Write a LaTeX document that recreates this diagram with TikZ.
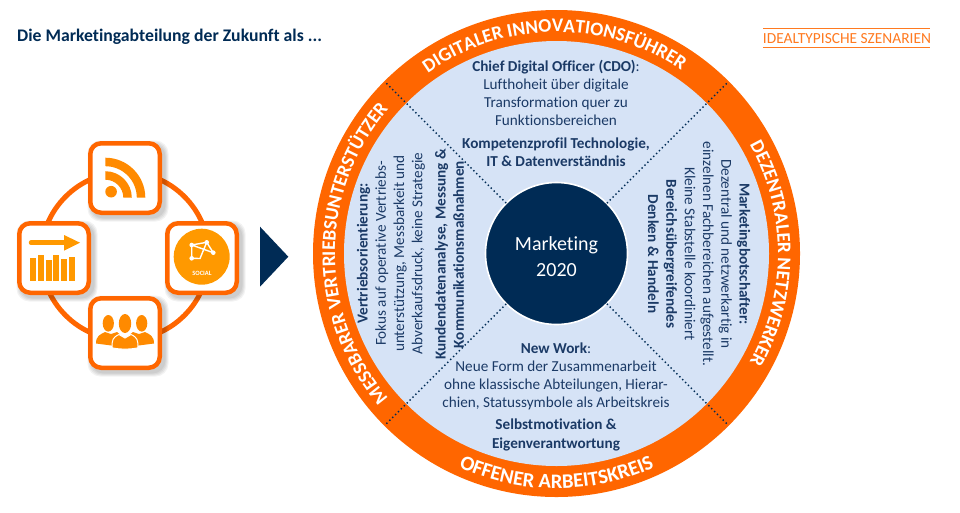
\documentclass[tikz,border=0pt]{standalone}
\usepackage{fontspec}
\setmainfont[Ligatures=NoCommon]{Carlito}
\usetikzlibrary{decorations.text,shapes.geometric}
\definecolor{ringorange}{HTML}{FF6600}
\definecolor{iconamber}{HTML}{FF9900}
\definecolor{iconorange}{HTML}{FF8A00}
\definecolor{quadblue}{HTML}{D6E3F6}
\definecolor{hubnavy}{HTML}{002B55}
\definecolor{txtnavy}{HTML}{1B3A66}
\definecolor{tagorange}{HTML}{FF7A20}
\newcommand{\bodyfont}{\fontsize{15.2}{18.2}\selectfont}
\newcommand{\ringfont}{\fontsize{19.3}{20}\selectfont\bfseries}
\newcommand{\ringfontb}{\fontsize{20.6}{21}\selectfont\bfseries}
\newcommand{\softshade}[2]{%
  \foreach \wd in {1,3,5,7}{%
    \fill[black,opacity=0.05,rounded corners=13pt] ({#1+3-37-\wd/2},{#2+3-37-\wd/2}) rectangle ({#1+3+37+\wd/2},{#2+3+37+\wd/2});}}
\tikzset{
  iconbox/.style={draw=ringorange,line width=4.5pt,fill=white,rounded corners=11pt,minimum size=69.5pt,inner sep=0pt,outer sep=0pt},
  blocktext/.style={text=txtnavy,align=center,font=\bodyfont,inner sep=0pt},
  hubdisc/.style={circle,fill=hubnavy,draw=white,line width=1.6pt,minimum size=142pt,inner sep=0pt},
  hubtext/.style={inner sep=0pt,text=white,align=center,font=\fontsize{20}{25.5}\selectfont},
  sector/.style={draw=hubnavy,line width=2pt,line cap=round,dash pattern=on 0pt off 4.1pt},
  ringlabel/.style={postaction={decorate},decoration={text along path,text align=center,text={#1}}},
}
\begin{document}
\begin{tikzpicture}[x=1pt,y=-1pt]
\useasboundingbox (0,0) rectangle (960,512);
\fill[white] (0,0) rectangle (960,512);
% header
\node[anchor=west,inner sep=0pt,text=hubnavy,font=\fontsize{17.7}{20}\selectfont\bfseries] (title) at (17,36.5) {Die Marketingabteilung der Zukunft als ...};
\node[anchor=center,inner sep=0pt,text=tagorange,font=\fontsize{15.4}{18}\selectfont] (tag) at (847,39) {IDEALTYPISCHE SZENARIEN};
\coordinate (tagTL) at (763,28.5); \coordinate (tagTR) at (930,28.5);
\coordinate (tagBL) at (763,47.5); \coordinate (tagBR) at (930,47.5);
\draw[tagorange,line width=1.2pt] (tagTL) -- (tagTR);
\draw[tagorange,line width=1.2pt] (tagBL) -- (tagBR);
% icon ring
\draw[ringorange,line width=5pt] (125,256) circle[radius=84pt];
\softshade{125}{178}\softshade{54}{258}\softshade{202}{258}\softshade{125}{333}
\node[iconbox] (rss) at (125,178) {};
\node[iconbox] (chart) at (54,258) {};
\node[iconbox] (social) at (202,258) {};
\node[iconbox] (people) at (125,333) {};
% rss glyph
\begin{scope}[shift={(105.3,197.7)},y=1pt,iconorange]
  \fill (0,40) arc[start angle=90,end angle=0,radius=40pt] -- (31.5,0) arc[start angle=0,end angle=90,radius=31.5pt] -- cycle;
  \fill (0,26.5) arc[start angle=90,end angle=0,radius=26.5pt] -- (18,0) arc[start angle=0,end angle=90,radius=18pt] -- cycle;
  \fill (5.8,6) circle[radius=5.8pt];
\end{scope}
% chart glyph
\draw[iconamber,line width=4.5pt,line cap=round] (31,242.7) -- (66,242.7);
\fill[iconamber] (64,235) -- (80,242.7) -- (64,250.7) -- cycle;
\fill[iconamber] (30,258.3) rectangle (35.8,280.7);
\fill[iconamber] (37.7,255) rectangle (43.5,280.7);
\fill[iconamber] (45.7,260) rectangle (51.5,280.7);
\fill[iconamber] (53.3,255) rectangle (59.1,280.7);
\fill[iconamber] (61.3,259.3) rectangle (67.1,280.7);
\fill[iconamber] (69,257.3) rectangle (74.8,280.7);
% social glyph
\fill[iconamber] (201.7,256.7) circle[radius=28pt];
\draw[white,line width=1.4pt] (191.7,245) -- (206.7,242.3) -- (213.3,252.7) -- (191.7,245) -- (191.7,258.3) -- (200,258.5) -- (206.7,242.3);
\foreach \nx/\ny in {191.7/245,206.7/242.3,213.3/252.7,191.7/258.3}{\fill[white] (\nx,\ny) circle[radius=2.3pt];}
\node[inner sep=0pt,text=white,font=\fontsize{6.5}{6.5}\selectfont\bfseries] (socialtxt) at (202,273.5) {SOCIAL};
% people glyph
\foreach \px/\sgn in {108.3/1,141.7/-1}{
  \fill[iconorange] (\px,323.3) ellipse[x radius=5.6pt,y radius=8.3pt];
  \fill[iconorange] (125-\sgn*29,343.5) .. controls (125-\sgn*29,336) and (125-\sgn*25,334.5) .. (125-\sgn*20,332) -- (125-\sgn*14,334) -- (125-\sgn*8,332) .. controls (125-\sgn*4,334) and (125-\sgn*2,340) .. (125-\sgn*2,347) -- cycle;
}
\fill[iconorange,draw=white,line width=1pt] (112,347.8) .. controls (112,340) and (112.5,337.5) .. (119,334.5) -- (125,338) -- (131,334.5) .. controls (137.5,337.5) and (138,340) .. (138,347.8) .. controls (130,349.5) and (120,349.5) .. (112,347.8) -- cycle;
\fill[iconorange] (125,323.5) ellipse[x radius=6.2pt,y radius=9.5pt];
% arrow
\fill[hubnavy] (260,226.7) -- (288.3,256.7) -- (260,286.7) -- cycle;
% main wheel
\fill[ringorange] (556.5,253.5) circle[radius=243.5pt];
\fill[quadblue] (556.5,253.5) circle[radius=212.5pt];
\coordinate (cNW) at (384.5,81.5);
\coordinate (cNE) at (728.5,81.5);
\coordinate (cSW) at (384.5,425.5);
\coordinate (cSE) at (728.5,425.5);
\node[hubdisc] (hub) at (556.5,253.5) {};
\node[hubtext] (hublabel) at (556.5,256.5) {Marketing\\2020};
\draw[sector] (hub.135) -- (cNW);
\draw[sector] (hub.45) -- (cNE);
\draw[sector] (hub.225) -- (cSW);
\draw[sector] (hub.315) -- (cSE);
% ring labels
\begin{scope}[shift={(556.5,253.5)},y=1pt]
  \path[ringlabel={|\ringfont\color{white}|DIGITALER INNOVATIONSFÜHRER}] (135.6:221.5pt) arc[start angle=135.6,end angle=45.6,radius=221.5pt];
  \path[ringlabel={|\ringfont\color{white}|DEZENTRALER NETZWERKER}] (45:221.5pt) arc[start angle=45,end angle=-45,radius=221.5pt];
  \path[ringlabel={|\ringfontb\color{white}|OFFENER ARBEITSKREIS}] (225:235pt) arc[start angle=225,end angle=315,radius=235pt];
  \path[ringlabel={|\ringfont\color{white}|MESSBARER VERTRIEBSUNTERSTÜTZER}] (225:221.5pt) arc[start angle=225,end angle=135,radius=221.5pt];
\end{scope}
% top sector
\node[blocktext] (topa) at (556,93) {\textbf{Chief Digital Officer (CDO)}:\\Lufthoheit über digitale\\Transformation quer zu\\Funktionsbereichen};
\node[blocktext,font=\bodyfont\bfseries] (topb) at (556,152) {Kompetenzprofil Technologie,\\IT \& Datenverständnis};
% bottom sector
\node[blocktext] (bota) at (556,376.5) {\textbf{New Work}:\\Neue Form der Zusammenarbeit\\ohne klassische Abteilungen, Hierar-\\chien, Statussymbole als Arbeitskreis};
\node[blocktext,font=\bodyfont\bfseries] (botb) at (556,435) {Selbstmotivation \&\\Eigenverantwortung};
% left sector
\node[blocktext,rotate=90] (lefta) at (391,253.5) {\textbf{Vertriebsorientierung:}\\Fokus auf operative Vertriebs-\\unterstützung, Messbarkeit und\\Abverkaufsdruck, keine Strategie};
\node[blocktext,font=\bodyfont\bfseries,rotate=90] (leftb) at (449.5,254.5) {Kundendatenanalyse, Messung \&\\Kommunikationsmaßnahmen};
% right sector
\node[blocktext,rotate=-90] (righta) at (717.5,254) {\textbf{Marketingbotschafter:}\\Dezentral und netzwerkartig in\\einzelnen Fachbereichen aufgestellt.\\Kleine Stabstelle koordiniert};
\node[blocktext,font=\bodyfont\bfseries,rotate=-90] (rightb) at (662.5,254) {Bereichsübergreifendes\\Denken \& Handeln};
\end{tikzpicture}
\end{document}
